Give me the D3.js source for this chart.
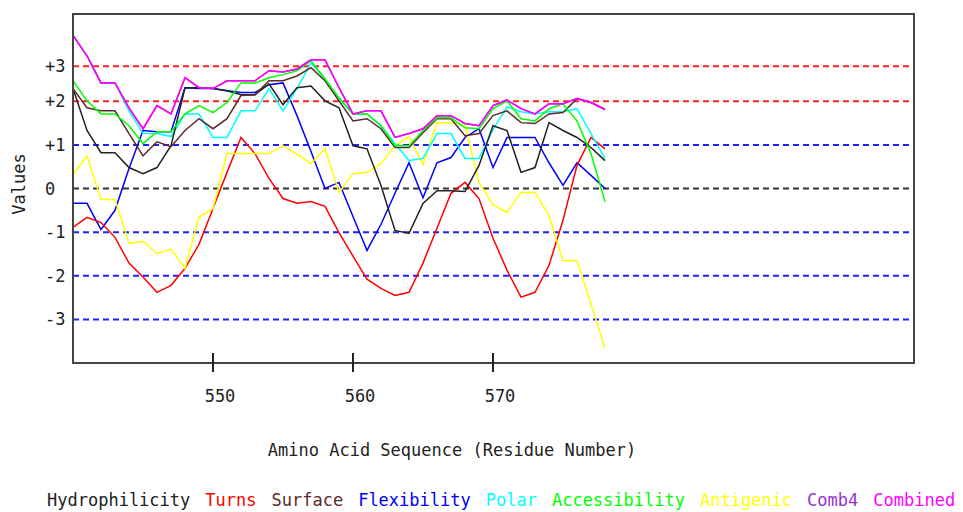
<!DOCTYPE html>
<html>
<head>
<meta charset="utf-8">
<script src="https://d3js.org/d3.v7.min.js"></script>
<style>
  body { margin: 0; background: #fff; }
  text { font-family: "DejaVu Sans Mono", monospace; }
</style>
</head>
<body>
<svg id="drawing_region" width="963" height="512"></svg>
<script>
// residue numbers on the x axis
const residues = [540,541,542,543,544,545,546,547,548,549,550,551,552,553,554,555,556,557,558,559,
                  560,561,562,563,564,565,566,567,568,569,570,571,572,573,574,575,576,577,578];

const hydrophilicity = [2.29,1.33,0.82,0.82,0.48,0.34,0.48,0.98,2.31,2.31,2.29,2.24,2.15,2.15,2.40,1.92,2.31,2.35,2.01,1.85,
                        0.98,0.91,0.07,-0.96,-1.03,-0.34,-0.05,-0.05,-0.07,0.53,1.44,1.33,0.37,0.48,1.51,1.33,1.17,0.94,0.64];
const turns = [-0.89,-0.66,-0.78,-1.12,-1.71,-2.03,-2.38,-2.22,-1.83,-1.28,-0.46,0.37,1.17,0.80,0.23,-0.23,-0.34,-0.30,-0.41,-1.01,
               -1.55,-2.08,-2.29,-2.45,-2.38,-1.71,-0.91,-0.11,0.14,-0.23,-1.14,-1.87,-2.49,-2.38,-1.76,-0.73,0.53,1.17,0.91];
const surface = [2.29,1.85,1.78,1.78,1.26,0.75,1.07,0.96,1.33,1.60,1.37,1.60,2.13,2.15,2.47,2.47,2.58,2.77,2.47,2.01,
                 1.55,1.60,1.37,0.94,0.94,1.28,1.60,1.60,1.21,1.26,1.67,1.78,1.51,1.49,1.71,1.74,2.06,1.97,1.81];
const flexibility = [-0.34,-0.34,-0.94,-0.50,0.46,1.33,1.30,1.30,2.31,2.29,2.29,2.24,2.20,2.20,2.38,2.42,1.67,0.85,0.00,0.14,
                     -0.64,-1.42,-0.82,-0.11,0.59,-0.21,0.59,0.71,1.17,1.37,0.48,1.17,1.17,1.17,0.59,0.07,0.59,0.30,0.00];
const polar = [3.51,3.04,2.42,2.42,1.78,1.26,1.26,1.19,1.71,1.71,1.17,1.17,1.78,1.78,2.29,1.78,2.29,2.88,2.51,2.06,
               1.71,1.71,1.44,1.03,0.64,0.69,1.26,1.26,0.69,0.69,1.35,1.87,1.76,1.71,1.76,1.76,1.83,1.26,0.69];
const accessibility = [2.47,2.01,1.71,1.71,1.44,1.03,1.30,1.30,1.71,1.90,1.74,1.97,2.42,2.42,2.54,2.61,2.70,2.93,2.51,2.08,
                       1.71,1.71,1.44,0.98,0.98,1.33,1.62,1.62,1.39,1.37,1.83,2.01,1.60,1.55,1.83,1.94,1.55,0.80,-0.30];
const antigenic = [0.32,0.75,-0.25,-0.25,-1.26,-1.21,-1.49,-1.39,-1.83,-0.66,-0.46,0.80,0.80,0.80,0.80,0.98,0.78,0.57,0.91,-0.09,
                   0.34,0.37,0.57,0.98,1.19,0.55,1.51,1.51,1.46,0.14,-0.37,-0.55,-0.09,-0.09,-0.62,-1.65,-1.65,-2.65,-3.66];
const comb4 = [3.51,3.04,2.42,2.42,1.85,1.37,1.90,1.71,2.54,2.31,2.29,2.47,2.47,2.47,2.70,2.67,2.74,2.95,2.95,2.31,
               1.71,1.78,1.78,1.17,1.26,1.37,1.67,1.67,1.49,1.44,1.90,2.03,1.83,1.71,1.94,1.94,2.06,1.97,1.81];
const combined = [3.51,3.04,2.42,2.42,1.85,1.37,1.90,1.71,2.54,2.31,2.29,2.47,2.47,2.47,2.70,2.67,2.74,2.95,2.95,2.31,
                  1.71,1.78,1.78,1.17,1.26,1.37,1.67,1.67,1.49,1.44,1.90,2.03,1.83,1.71,1.94,1.94,2.06,1.97,1.81];

// reference lines and their labels
const gridValues = [2.8, 2, 1, 0, -1, -2, -3];
const gridLabels = ["+3", "+2", "+1", "0", "-1", "-2", "-3"];
const xTickValues = [550, 560, 570];

// legend order
const series = [
    { name: "Hydrophilicity", values: hydrophilicity, color: "#222222", z: 4 },
    { name: "Turns", values: turns, color: "#ff0000", z: 1 },
    { name: "Surface", values: surface, color: "#5c2a2a", z: 5 },
    { name: "Flexibility", values: flexibility, color: "#0000ff", z: 0 },
    { name: "Polar", values: polar, color: "#00ffff", z: 3 },
    { name: "Accessibility", values: accessibility, color: "#00ff00", z: 6 },
    { name: "Antigenic", values: antigenic, color: "#ffff00", z: 2 },
    { name: "Comb4", values: comb4, color: "#9933cc", z: 7 },
    { name: "Combined", values: combined, color: "#ff00ff", z: 8 }
];

const svg = d3.select('#drawing_region');
const plot = { left: 73, top: 14, right: 914, bottom: 363 };

const x = d3.scaleLinear().domain([540, 600]).range([plot.left, plot.right - 1]);
const y = d3.scaleLinear().domain([-4, 4]).range([plot.bottom, plot.top]);

// dashed reference lines
svg.selectAll('line.grid')
    .data(gridValues)
    .enter().append('line')
    .attr('class', 'grid')
    .attr('x1', plot.left).attr('x2', plot.right)
    .attr('y1', d => y(d)).attr('y2', d => y(d))
    .attr('stroke', d => d > 1.5 ? '#ff2020' : (d === 0 ? '#333333' : '#2020ff'))
    .attr('stroke-width', 2)
    .attr('stroke-dasharray', '6,4');

// y labels
svg.selectAll('text.ylab')
    .data(gridValues)
    .enter().append('text')
    .attr('class', 'ylab')
    .attr('x', 45)
    .attr('y', d => y(d))
    .attr('dy', '0.36em')
    .attr('font-size', 17)
    .attr('fill', '#222')
    .text((d, i) => gridLabels[i]);

// series lines (drawn in stacking order)
const line = d3.line()
    .x((d, i) => x(residues[i]))
    .y(d => y(d));

svg.selectAll('path.series')
    .data(series.slice().sort((a, b) => a.z - b.z))
    .enter().append('path')
    .attr('class', 'series')
    .attr('fill', 'none')
    .attr('stroke', d => d.color)
    .attr('stroke-width', 1.5)
    .attr('d', d => line(d.values));

// frame
svg.append('rect')
    .attr('x', plot.left).attr('y', plot.top)
    .attr('width', plot.right - plot.left).attr('height', plot.bottom - plot.top)
    .attr('fill', 'none')
    .attr('stroke', '#444')
    .attr('stroke-width', 2);

// x ticks
svg.selectAll('line.xtick')
    .data(xTickValues)
    .enter().append('line')
    .attr('class', 'xtick')
    .attr('x1', d => x(d)).attr('x2', d => x(d))
    .attr('y1', plot.bottom - 10).attr('y2', plot.bottom + 9)
    .attr('stroke', '#222')
    .attr('stroke-width', 2);

svg.selectAll('text.xlab')
    .data(xTickValues)
    .enter().append('text')
    .attr('class', 'xlab')
    .attr('x', d => x(d) + 7)
    .attr('y', 402)
    .attr('text-anchor', 'middle')
    .attr('font-size', 17)
    .attr('fill', '#222')
    .text(d => d);

// axis titles
svg.append('text')
    .attr('x', 452).attr('y', 456)
    .attr('text-anchor', 'middle')
    .attr('font-size', 17)
    .attr('fill', '#222')
    .text('Amino Acid Sequence (Residue Number)');

svg.append('text')
    .attr('transform', 'translate(25,184) rotate(-90)')
    .attr('text-anchor', 'middle')
    .attr('font-size', 17)
    .attr('fill', '#222')
    .text('Values');

// legend
let lx = 47;
series.forEach(s => {
    const t = svg.append('text')
        .attr('x', lx).attr('y', 506)
        .attr('font-size', 17)
        .attr('fill', s.name === 'Hydrophilicity' ? '#222' : s.color)
        .text(s.name);
    lx += t.node().getComputedTextLength() + 15;
});
</script>
</body>
</html>
